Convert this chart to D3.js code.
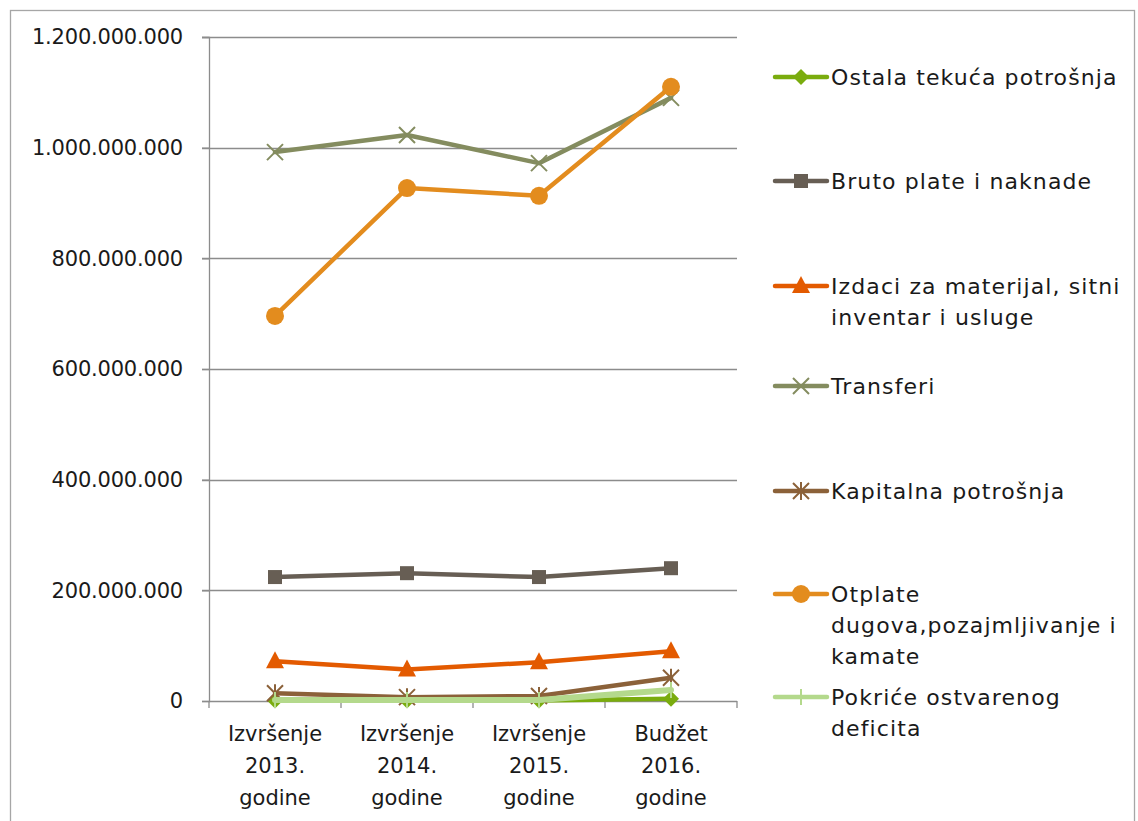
<!DOCTYPE html>
<html>
<head>
<meta charset="utf-8">
<script src="https://cdn.jsdelivr.net/npm/d3@7"></script>
<style>
    body { margin: 0; background: #ffffff; }
    svg text { font-family: "DejaVu Sans", sans-serif; fill: #1a1a1a; }
</style>
</head>
<body>
<div id="chart"></div>
<script>
var categories = [
    ["Izvršenje", "2013.", "godine"],
    ["Izvršenje", "2014.", "godine"],
    ["Izvršenje", "2015.", "godine"],
    ["Budžet", "2016.", "godine"]
];
var seriesNames = [
    ["Ostala tekuća potrošnja"],
    ["Bruto plate i naknade"],
    ["Izdaci za materijal, sitni", "inventar i usluge"],
    ["Transferi"],
    ["Kapitalna potrošnja"],
    ["Otplate", "dugova,pozajmljivanje i", "kamate"],
    ["Pokriće ostvarenog", "deficita"]
];
var ostala = [1000000, 1000000, 1000000, 4000000];
var bruto = [224000000, 231000000, 224000000, 240000000];
var izdaci = [72000000, 57000000, 70000000, 90000000];
var transferi = [992000000, 1023000000, 972000000, 1090000000];
var kapitalna = [14000000, 7000000, 9000000, 42000000];
var otplate = [696000000, 927000000, 913000000, 1110000000];
var pokrice = [2000000, 2000000, 2000000, 20000000];
var yTicks = [0, 200000000, 400000000, 600000000, 800000000, 1000000000, 1200000000];

var colors = ["#7aac0e", "#675e54", "#e35a00", "#848c5f", "#8b6139", "#e38c1e", "#b4d98c"];
var symbols = ["diamond", "square", "triangle", "x", "star", "circle", "plus"];
var allValues = [ostala, bruto, izdaci, transferi, kapitalna, otplate, pokrice];

var width = 1138, height = 821;
var margin = { top: 37, left: 209, right: 401, bottom: 120 };
var graphWidth = width - margin.left - margin.right;
var graphHeight = height - margin.top - margin.bottom;

var svg = d3.select("#chart")
    .append("svg")
    .attr("width", width)
    .attr("height", height);

// outer frame
svg.append("rect")
    .attr("x", 10.5).attr("y", 10.5)
    .attr("width", 1124).attr("height", 820)
    .attr("fill", "none")
    .attr("stroke", "#a6a6a6")
    .attr("stroke-width", 1.3);

var g = svg.append("g")
    .attr("transform", `translate(${margin.left},${margin.top})`);

var locale = d3.formatLocale({ decimal: ",", thousands: ".", grouping: [3], currency: ["", ""] });
var fmt = locale.format(",d");

var xScale = d3.scaleBand()
    .domain(d3.range(categories.length))
    .range([0, graphWidth]);

var yScale = d3.scaleLinear()
    .domain([0, 1200000000])
    .range([graphHeight, 0]);

// gridlines
g.append("g")
    .selectAll("line")
    .data(yTicks.slice(1))
    .join("line")
    .attr("x1", -7)
    .attr("x2", graphWidth)
    .attr("y1", d => Math.round(yScale(d)) + 0.5)
    .attr("y2", d => Math.round(yScale(d)) + 0.5)
    .attr("stroke", "#8c8c8c")
    .attr("stroke-width", 1.3);

var yAxis = g.append("g")
    .call(d3.axisLeft(yScale).tickValues(yTicks).tickFormat(fmt).tickSize(7).tickPadding(19));
yAxis.select(".domain").attr("stroke", "#8c8c8c").attr("stroke-width", 1.3);
yAxis.selectAll(".tick line").attr("stroke", "#8c8c8c").attr("stroke-width", 1.3);
yAxis.selectAll("text")
    .style("font-family", "DejaVu Sans")
    .style("font-size", "21px")
    .style("letter-spacing", "-0.2px")
    .attr("fill", "#1a1a1a");

// x axis with ticks between categories
var xAxis = g.append("g")
    .attr("transform", `translate(0,${graphHeight})`);
xAxis.append("line")
    .attr("x1", 0).attr("x2", graphWidth)
    .attr("y1", 0.5).attr("y2", 0.5)
    .attr("stroke", "#8c8c8c")
    .attr("stroke-width", 1.3);
xAxis.selectAll(".xtick")
    .data(d3.range(categories.length + 1))
    .join("line")
    .attr("class", "xtick")
    .attr("x1", d => d * xScale.bandwidth())
    .attr("x2", d => d * xScale.bandwidth())
    .attr("y1", 0)
    .attr("y2", 7)
    .attr("stroke", "#8c8c8c")
    .attr("stroke-width", 1.3);

xAxis.selectAll(".xlabel")
    .data(categories)
    .join("text")
    .attr("class", "xlabel")
    .attr("text-anchor", "middle")
    .attr("transform", (d, i) => `translate(${xScale(i) + xScale.bandwidth() / 2},0)`)
    .style("font-size", "21px")
    .selectAll("tspan")
    .data(d => d)
    .join("tspan")
    .attr("x", 0)
    .attr("y", (d, i) => 40 + i * 32)
    .text(d => d);

function drawMarker(sel, type, color) {
    if (type === "diamond") {
        sel.append("path").attr("d", "M0,-8L8,0L0,8L-8,0Z").attr("fill", color);
    } else if (type === "square") {
        sel.append("rect").attr("x", -7).attr("y", -7).attr("width", 14).attr("height", 14).attr("fill", color);
    } else if (type === "triangle") {
        sel.append("path").attr("d", "M0,-10L9,7L-9,7Z").attr("fill", color);
    } else if (type === "circle") {
        sel.append("circle").attr("r", 9).attr("fill", color);
    } else if (type === "x") {
        sel.append("path").attr("d", "M-8,-8L8,8M-8,8L8,-8").attr("stroke", color).attr("stroke-width", 2);
    } else if (type === "star") {
        sel.append("path").attr("d", "M-8,-8L8,8M-8,8L8,-8M0,-9L0,9").attr("stroke", color).attr("stroke-width", 2);
    } else if (type === "plus") {
        sel.append("path").attr("d", "M0,-8L0,8").attr("stroke", color).attr("stroke-width", 2);
    }
}

var line = d3.line()
    .x((d, i) => xScale(i) + xScale.bandwidth() / 2)
    .y(d => yScale(d));

allValues.forEach((values, s) => {
    var sg = g.append("g");
    sg.append("path")
        .datum(values)
        .attr("d", line)
        .attr("fill", "none")
        .attr("stroke", colors[s])
        .attr("stroke-width", s === 6 ? 6 : 4.5)
        .attr("stroke-linejoin", "round")
        .attr("stroke-linecap", "round");
    sg.selectAll(".marker")
        .data(values)
        .join("g")
        .attr("class", "marker")
        .attr("transform", (d, i) => `translate(${xScale(i) + xScale.bandwidth() / 2},${yScale(d)})`)
        .each(function() { drawMarker(d3.select(this), symbols[s], colors[s]); });
});

// legend
var legendY = [77, 181, 286, 386, 491, 594, 697];
var legend = svg.append("g");
seriesNames.forEach((name, s) => {
    var lg = legend.append("g")
        .attr("transform", `translate(775,${legendY[s]})`);
    lg.append("line")
        .attr("x1", 0).attr("x2", 52)
        .attr("y1", 0).attr("y2", 0)
        .attr("stroke", colors[s])
        .attr("stroke-width", 4.5)
        .attr("stroke-linecap", "round");
    var mk = lg.append("g").attr("transform", "translate(26,0)");
    drawMarker(mk, symbols[s], colors[s]);
    lg.append("text")
        .attr("x", 56)
        .style("font-size", "22px")
        .style("letter-spacing", "1.1px")
        .selectAll("tspan")
        .data(name)
        .join("tspan")
        .attr("x", 56)
        .attr("y", (d, i) => 8 + i * 31)
        .text(d => d);
});
</script>
</body>
</html>
